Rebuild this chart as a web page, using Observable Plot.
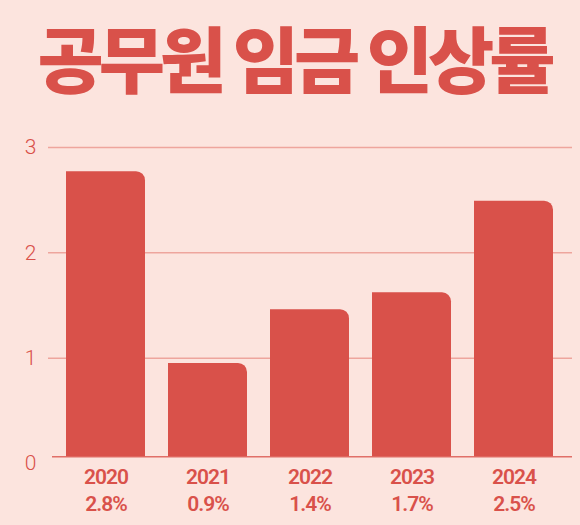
<!DOCTYPE html>
<html><head><meta charset="utf-8">
<script src="https://cdn.jsdelivr.net/npm/d3@7"></script>
<script src="https://cdn.jsdelivr.net/npm/@observablehq/plot@0.6"></script>
<style>
html,body{margin:0;padding:0;background:#fce4de;}
#wrap{width:580px;height:525px;overflow:hidden;background:#fce4de;}
h1{margin:0;height:120px;line-height:120px;padding-top:0;text-align:center;font-family:"Noto Sans CJK KR";font-weight:900;font-size:72px;letter-spacing:-5px;color:#d9514a;position:relative;top:-4px;left:4px;}
.xax text{letter-spacing:-1px;}
</style></head>
<body><div id="wrap"><h1>공무원 임금 인상률</h1><div id="chart"></div></div>
<script>
const years = ["2020","2021","2022","2023","2024"];
const values = [2.77, 0.95, 1.46, 1.62, 2.49];
const rateLabels = ["2.8%","0.9%","1.4%","1.7%","2.5%"];
const yTicks = [0,1,2,3];

const data = years.map((y,i)=>({year:y, value:values[i], label:rateLabels[i]}));
const red = "#d9514a";
const chart = Plot.plot({
  width:580, height:405,
  marginTop:27, marginBottom:62, marginLeft:48, marginRight:8,
  style:{background:"transparent", fontFamily:"Roboto"},
  x:{domain:years, paddingInner:0.224, paddingOuter:0.17, label:null},
  y:{domain:[0,3], ticks:yTicks, label:null},
  marks:[
    Plot.gridY(yTicks.slice(1), {stroke:"#eea59d", strokeOpacity:1, strokeWidth:1.5}),
    Plot.axisY(yTicks, {tickSize:0, tickPadding:12, fontSize:21, fontWeight:300, fill:red, label:null, tickFormat:d3.format("d")}),
    Plot.barY(data, {x:"year", y:"value", fill:red, insetBottom:6.7, ry1:9, rx1:0}),
    Plot.ruleY([0], {stroke:red, strokeOpacity:0.8, strokeWidth:1.5, dy:-6.7, insetLeft:4}),
    Plot.axisX({tickSize:0, tickPadding:4, dy:-3, fontSize:21, fontWeight:600, fill:red, lineHeight:1.3, className:"xax",
      tickFormat:(d)=>d + "\n" + rateLabels[years.indexOf(d)], label:null})
  ]
});
document.getElementById("chart").appendChild(chart);
</script></body></html>
